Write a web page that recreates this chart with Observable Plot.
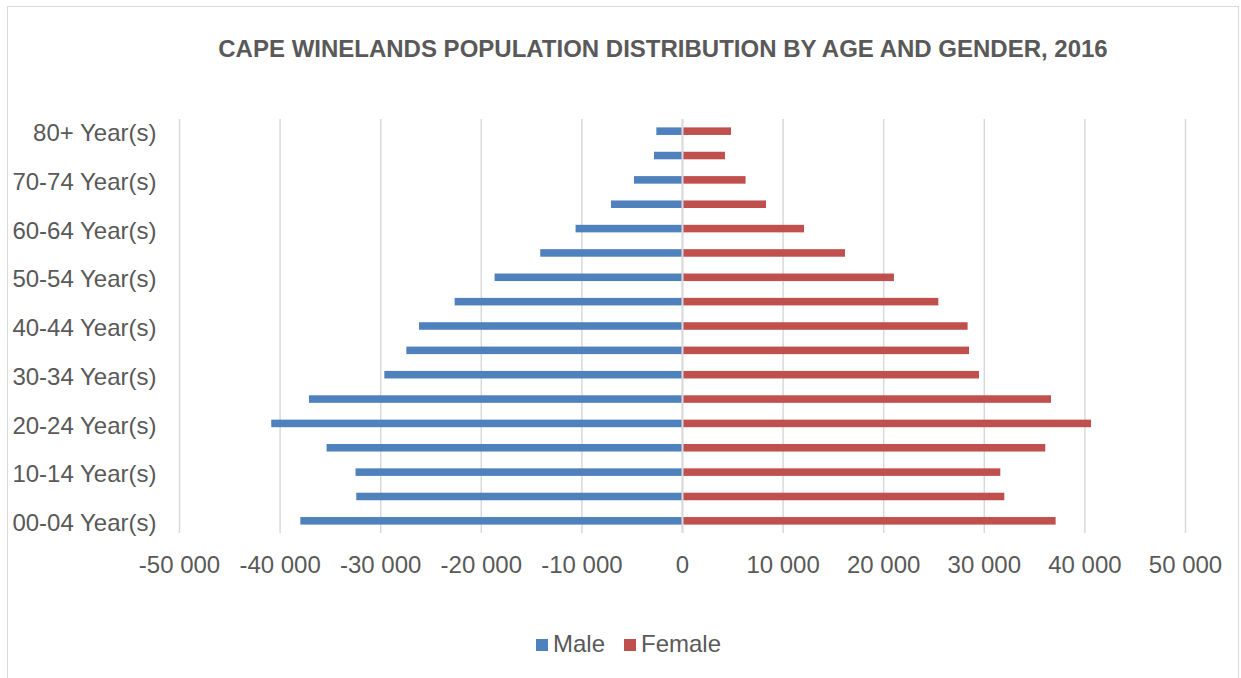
<!DOCTYPE html>
<html>
<head>
<meta charset="utf-8">
<script src="https://cdn.jsdelivr.net/npm/d3@7"></script>
<script src="https://cdn.jsdelivr.net/npm/@observablehq/plot@0.6"></script>
<style>
  html, body { margin: 0; padding: 0; background: #fff; }
  #wrap { position: relative; width: 1241px; height: 678px; overflow: hidden; font-family: "Liberation Sans", Arial, sans-serif; color: #595959; }
  #frame { position: absolute; left: 7px; top: 6px; width: 1232px; height: 680px; border: 1px solid #d9d9d9; box-sizing: border-box; }
  #title { position: absolute; left: 0; width: 1241px; top: 35px; text-align: center; font-weight: bold; font-size: 24px; padding-left: 85px; box-sizing: border-box; }
  #chart { position: absolute; left: 0; top: 88px; }
  #chart svg { display: block; }
  #legend { position: absolute; top: 630px; left: 0; width: 1241px; font-size: 24px; }
  .item { position: absolute; top: 0; line-height: 28px; white-space: nowrap; }
  .sw { display: inline-block; width: 12px; height: 12px; margin-right: 5px; vertical-align: 1px; }
</style>
</head>
<body>
<div id="wrap">
  <div id="frame"></div>
  <div id="title">CAPE WINELANDS POPULATION DISTRIBUTION BY AGE AND GENDER, 2016</div>
  <div id="chart"></div>
  <div id="legend"></div>
</div>
<script>
const ageGroups = [
  "80+ Year(s)", "75-79 Year(s)", "70-74 Year(s)", "65-69 Year(s)", "60-64 Year(s)",
  "55-59 Year(s)", "50-54 Year(s)", "45-49 Year(s)", "40-44 Year(s)", "35-39 Year(s)",
  "30-34 Year(s)", "25-29 Year(s)", "20-24 Year(s)", "15-19 Year(s)", "10-14 Year(s)",
  "05-09 Year(s)", "00-04 Year(s)"
];
const maleValues = [
  -2550, -2780, -4770, -7060, -10580,
  -14090, -18630, -22600, -26140, -27400,
  -29590, -37080, -40830, -35330, -32450,
  -32380, -37940
];
const femaleValues = [
  4870, 4270, 6320, 8350, 12130,
  16200, 21070, 25480, 28390, 28530,
  29520, 36680, 40660, 36110, 31640,
  32040, 37140
];
const xTicks = [-50000, -40000, -30000, -20000, -10000, 0, 10000, 20000, 30000, 40000, 50000];
const seriesNames = ["Male", "Female"];
const seriesColors = ["#4f81bd", "#c0504d"];

const rows = ageGroups.map((age, i) => ({age, male: maleValues[i], female: femaleValues[i]}));
const fmt = d => (d < 0 ? "-" : "") + d3.format(",")(Math.abs(d)).replace(/,/g, " ");
const inset = 8.4;

const chart = Plot.plot({
  width: 1241,
  height: 510,
  marginTop: 31,
  marginBottom: 65,
  marginLeft: 179,
  marginRight: 56,
  style: {fontFamily: '"Liberation Sans", Arial, sans-serif', fontSize: "24px", color: "#595959", background: "transparent", overflow: "visible"},
  x: {domain: [-50000, 50000], label: null},
  y: {domain: ageGroups, padding: 0, round: false, label: null},
  marks: [
    Plot.ruleX(xTicks, {stroke: "#d9d9d9", strokeWidth: 1.5}),
    Plot.barX(rows, {x1: 0, x2: "male", y: "age", fill: seriesColors[0], insetTop: inset, insetBottom: inset}),
    Plot.barX(rows, {x1: 0, x2: "female", y: "age", fill: seriesColors[1], insetTop: inset, insetBottom: inset}),
    Plot.ruleX([0], {stroke: "#d9d9d9", strokeWidth: 2}),
    Plot.axisX({ticks: xTicks, tickFormat: fmt, tickSize: 0, tickPadding: 22, label: null}),
    Plot.axisY({ticks: ageGroups.filter((d, i) => i % 2 === 0), tickSize: 0, tickPadding: 23, dy: 2, label: null})
  ]
});
document.getElementById("chart").appendChild(chart);

const legend = document.getElementById("legend");
const lx = [536, 624];
seriesNames.forEach((name, i) => {
  const it = document.createElement("div");
  it.className = "item";
  it.style.left = lx[i] + "px";
  it.innerHTML = `<span class="sw" style="background:${seriesColors[i]}"></span>${name}`;
  legend.appendChild(it);
});
</script>
</body>
</html>
